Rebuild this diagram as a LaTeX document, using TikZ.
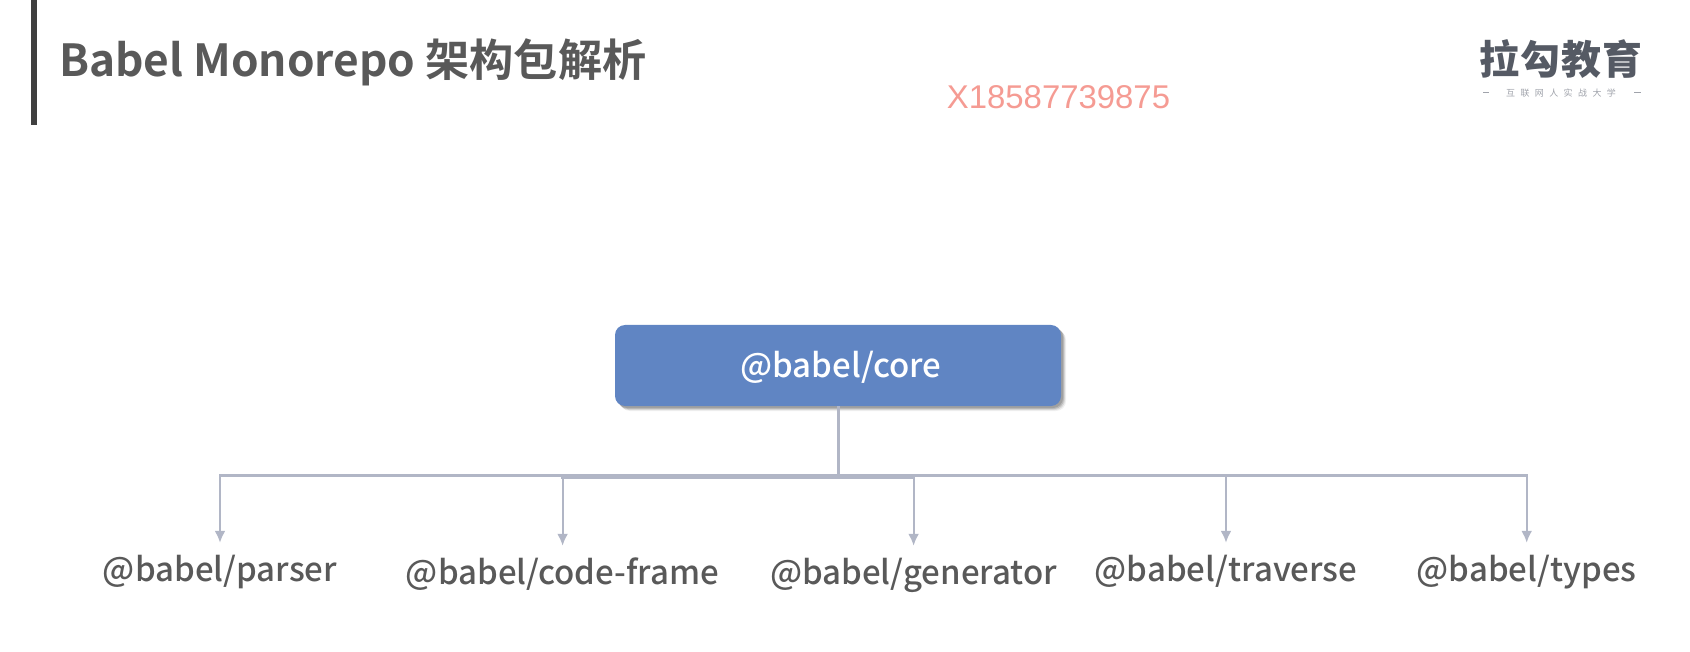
\documentclass[tikz,border=0pt]{standalone}
\usepackage{fontspec}
\usetikzlibrary{arrows.meta,calc}
\setmainfont{Noto Sans CJK SC}
\newfontfamily\titlefont{Noto Sans CJK SC}[BoldFont=* Bold]
\newfontfamily\labelfont{Noto Sans CJK SC Medium}
\newfontfamily\wmfont{Liberation Sans}
\definecolor{barcol}{HTML}{404040}
\definecolor{txtcol}{HTML}{595959}
\definecolor{boxcol}{HTML}{6085C3}
\definecolor{linecol}{HTML}{B1B6C6}
\definecolor{wmcol}{HTML}{F59B93}
\definecolor{logocol}{HTML}{555A64}
\definecolor{subcol}{HTML}{A0A3AB}
\tikzset{
  x=1pt,y=-1pt,
  leaf/.style={inner sep=0pt,minimum height=62pt,text height=22pt,text depth=8pt,text=txtcol,font=\labelfont\fontsize{33}{34}\selectfont},
  corebox/.style={fill=boxcol,rounded corners=10pt,minimum width=446pt,minimum height=81pt,inner sep=0pt,text=white,font=\labelfont\fontsize{33}{34}\selectfont,
    preaction={draw=none,fill=black,fill opacity=.06,transform canvas={shift={(5pt,-5pt)}}},
    preaction={draw=none,fill=black,fill opacity=.10,transform canvas={shift={(4pt,-4pt)}}},
    preaction={draw=none,fill=black,fill opacity=.14,transform canvas={shift={(3pt,-3pt)}}},
    preaction={draw=none,fill=black,fill opacity=.14,transform canvas={shift={(2pt,-2pt)}}}},
  trunk/.style={draw=linecol,line width=3pt},
  busline/.style={draw=linecol,line width=3pt,line cap=rect},
  branch/.style={draw=linecol,line width=2.2pt,-{Latex[length=12pt,width=11pt]}},
}
\begin{document}
\begin{tikzpicture}
\useasboundingbox (0,0) rectangle (1690,652);
\fill[barcol] (31,0) rectangle (37,125);
\node[anchor=base west,inner sep=0pt,text=txtcol,font=\titlefont\bfseries\fontsize{44.2}{45}\selectfont] (title) at (59,77) {Babel Monorepo 架构包解析};
\node[inner sep=0pt,text=wmcol,font=\wmfont\fontsize{32.9}{33}\selectfont] (wm) at (1058.5,97) {X18587739875};
\node[inner sep=0pt,text=logocol,font=\bfseries\fontsize{40}{40}\selectfont] (logo) at (1561,59) {\addfontfeature{LetterSpace=3}拉勾教育};
\node[inner sep=0pt,text=subcol,font=\fontsize{9}{9}\selectfont] (slogan) at (1561,93) {\addfontfeature{LetterSpace=60}互联网人实战大学};
\fill[subcol] (1483,92.5) rectangle (1489,93.5);
\fill[subcol] (1634,92.5) rectangle (1641,93.5);
\node[corebox] (core) at (838,365.5) {\hspace*{6pt}\raisebox{-2pt}[\height][\depth]{@babel/core}};
\node[leaf] (parser) at (220,574) {@babel/parser};
\node[leaf] (frame) at (562.6,577) {@babel/code-frame};
\node[leaf] (gen) at (913.6,577) {@babel/generator};
\node[leaf] (trav) at (1226,574) {@babel/traverse};
\node[leaf] (types) at (1526.7,574) {@babel/types};
\coordinate (hub) at (838,475);
\coordinate (hubb) at (838,477);
\draw[trunk] (core.south) -- (hub);
\draw[busline] (hub -| parser) -- (hub -| types);
\draw[busline] (hubb -| frame) -- (hubb -| gen);
\draw[branch] (hub -| parser) -- (parser.north);
\draw[branch] (hubb -| frame) -- (frame.north);
\draw[branch] (hubb -| gen) -- (gen.north);
\draw[branch] (hub -| trav) -- (trav.north);
\draw[branch] (hub -| types) -- (types.north);
\end{tikzpicture}
\end{document}
